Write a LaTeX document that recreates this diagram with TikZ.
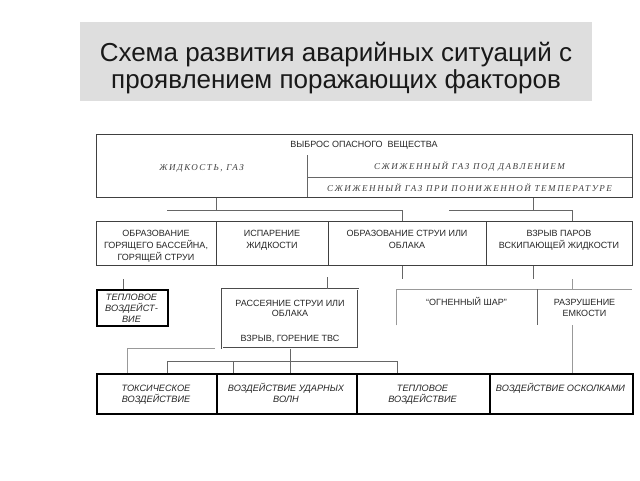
\documentclass[tikz,border=0pt]{standalone}
\usepackage{fontspec}
\setmainfont{Liberation Sans}
\newfontfamily\gostit[LetterSpace=17]{Liberation Serif}
\begin{document}
\begin{tikzpicture}[x=1pt,y=-1pt,
  conn/.style={draw=black!60, line width=0.7pt},
  lconn/.style={draw=black!40, line width=0.8pt},
  thinbox/.style={draw=black!75, line width=0.8pt, rectangle, inner sep=0pt, anchor=north west},
  thickbox/.style={draw=black, line width=1.8pt, rectangle, inner sep=0pt, anchor=north west},
  openbox/.style={rectangle, inner sep=0pt, anchor=north west},
  dblbox/.style={draw=black!70, double=white, double distance=1.2pt, line width=0.5pt, rectangle, inner sep=0pt, anchor=north west},
  txt/.style={font=\fontsize{9}{11}\selectfont, text=black!85, inner sep=0pt, anchor=base},
  itxt/.style={font=\fontsize{9.2}{11}\selectfont\itshape, text=black!85, inner sep=0pt, anchor=base},
  stxt/.style={font=\fontsize{9}{10}\selectfont\gostit\itshape, text=black!75, inner sep=0pt, anchor=base},
  ttl/.style={font=\fontsize{26}{26}\selectfont, text=black!90, inner sep=0pt, anchor=base}
]
\useasboundingbox (0,0) rectangle (640,480);
\fill[white] (0,0) rectangle (640,480);

% title
\fill[black!13] (80,22) rectangle (592,101);
\node[ttl] (t1) at (336,61.5) {Схема развития аварийных ситуаций с};
\node[ttl] (t2) at (336,88) {проявлением поражающих факторов};

% top box
\node[thinbox, minimum width=536pt, minimum height=63pt] (top) at (96,134) {};
\node[txt] (toph) at (364,147.7) {ВЫБРОС ОПАСНОГО\ \ ВЕЩЕСТВА};
\draw[conn] (307,155) -- (307,197);
\draw[conn] (307,177) -- (632,177);
\node[stxt] (liq) at (201.5,170.5) {ЖИДКОСТЬ, ГАЗ};
\node[stxt] (gas1) at (469.5,169.5) {СЖИЖЕННЫЙ ГАЗ ПОД ДАВЛЕНИЕМ};
\node[stxt] (gas2) at (469.5,191.5) {СЖИЖЕННЫЙ ГАЗ ПРИ ПОНИЖЕННОЙ ТЕМПЕРАТУРЕ};

% row 2
\node[thinbox, minimum width=120pt, minimum height=44pt] (r2a) at (96,221) {};
\node[thinbox, minimum width=112pt, minimum height=44pt] (r2b) at (216,221) {};
\node[thinbox, minimum width=158pt, minimum height=44pt] (r2c) at (328,221) {};
\node[thinbox, minimum width=146pt, minimum height=44pt] (r2d) at (486,221) {};
\node[txt] (r2a1) at (156,236.2) {ОБРАЗОВАНИЕ};
\node[txt] (r2a2) at (156,248.2) {ГОРЯЩЕГО БАССЕЙНА,};
\node[txt] (r2a3) at (156,260.2) {ГОРЯЩЕЙ СТРУИ};
\node[txt] (r2b1) at (272,236.2) {ИСПАРЕНИЕ};
\node[txt] (r2b2) at (272,248.2) {ЖИДКОСТИ};
\node[txt] (r2c1) at (407,236.2) {ОБРАЗОВАНИЕ СТРУИ ИЛИ};
\node[txt] (r2c2) at (407,248.2) {ОБЛАКА};
\node[txt] (r2d1) at (559,236.2) {ВЗРЫВ ПАРОВ};
\node[txt] (r2d2) at (559,248.2) {ВСКИПАЮЩЕЙ ЖИДКОСТИ};

% row 3
\node[thickbox, minimum width=71pt, minimum height=36pt] (tv) at (96,289) {};
\node[itxt] (tv1) at (131.5,300) {ТЕПЛОВОЕ};
\node[itxt] (tv2) at (131.5,311) {ВОЗДЕЙСТ-};
\node[itxt] (tv3) at (131.5,322) {ВИЕ};
\node[dblbox, minimum width=136pt, minimum height=59pt] (rs) at (222,289) {};
\node[txt] (rs1) at (290,306.2) {РАССЕЯНИЕ СТРУИ ИЛИ};
\node[txt] (rs2) at (290,316.5) {ОБЛАКА};
\node[txt] (rs3) at (290,341) {ВЗРЫВ, ГОРЕНИЕ ТВС};
\node[openbox, minimum width=141pt, minimum height=36pt] (og) at (396,289) {};
\node[openbox, minimum width=95pt, minimum height=36pt] (rz) at (537,289) {};
\draw[lconn] (og.south west) -- (og.north west) -- (rz.north east);
\draw[conn] (rz.north west) -- (rz.south west);
\node[txt] (og1) at (466.5,305.7) {“ОГНЕННЫЙ ШАР”};
\node[txt] (rz1) at (584.5,305.7) {РАЗРУШЕНИЕ};
\node[txt] (rz2) at (584.5,316) {ЕМКОСТИ};

% row 4
\node[thickbox, minimum width=120pt, minimum height=40pt] (r4a) at (96,373) {};
\node[thickbox, minimum width=140pt, minimum height=40pt] (r4b) at (216,373) {};
\node[thickbox, minimum width=133pt, minimum height=40pt] (r4c) at (356,373) {};
\node[thickbox, minimum width=143pt, minimum height=40pt] (r4d) at (489,373) {};
\node[itxt] (r4a1) at (156,391.6) {ТОКСИЧЕСКОЕ};
\node[itxt] (r4a2) at (156,402.7) {ВОЗДЕЙСТВИЕ};
\node[itxt] (r4b1) at (286,391.6) {ВОЗДЕЙСТВИЕ УДАРНЫХ};
\node[itxt] (r4b2) at (286,402.7) {ВОЛН};
\node[itxt] (r4c1) at (422.5,391.6) {ТЕПЛОВОЕ};
\node[itxt] (r4c2) at (422.5,402.7) {ВОЗДЕЙСТВИЕ};
\node[itxt] (r4d1) at (560.5,391.6) {ВОЗДЕЙСТВИЕ ОСКОЛКАМИ};

% connectors top -> row 2
\coordinate (h1j) at (216.5,210);
\coordinate (h1l) at (167,210);
\coordinate (h1r) at (402.5,210);
\coordinate (h2j) at (533.5,210);
\coordinate (h2l) at (449,210);
\coordinate (h2r) at (572,210);
\draw[conn] (top.south -| h1j) -- (h1j);
\draw[conn] (h1l) -- (h1r) -- (h1r |- r2c.north);
\draw[conn] (top.south -| h2j) -- (h2j);
\draw[conn] (h2l) -- (h2r) -- (h2r |- r2d.north);

% connectors row 2 -> row 3
\coordinate (s1) at (123,279);
\coordinate (s2) at (327.5,277);
\coordinate (s3) at (402.5,279);
\coordinate (s4) at (533.5,279);
\coordinate (s5) at (572,279);
\draw[conn] (s1) -- (s1 |- tv.north);
\draw[conn] (s2) -- (s2 |- rs.north);
\draw[conn] (s3 |- r2c.south) -- (s3);
\draw[conn] (s4 |- r2d.south) -- (s4);
\draw[lconn] (s5) -- (s5 |- rz.north);
\draw[lconn] (s5 |- rz.south) -- (s5 |- r4d.north);

% connectors row 3 -> row 4
\coordinate (g1) at (215,348);
\coordinate (g2) at (127,348);
\coordinate (b1) at (167.5,361.5);
\coordinate (b2) at (397,361.5);
\coordinate (b3) at (233,361.5);
\draw[lconn] (g1) -- (g2) -- (g2 |- r4a.north);
\draw[conn] (rs.south) -- (rs.south |- r4b.north);
\draw[conn] (b1 |- r4a.north) -- (b1) -- (b2) -- (b2 |- r4c.north);
\draw[conn] (b3) -- (b3 |- r4b.north);
\end{tikzpicture}
\end{document}
